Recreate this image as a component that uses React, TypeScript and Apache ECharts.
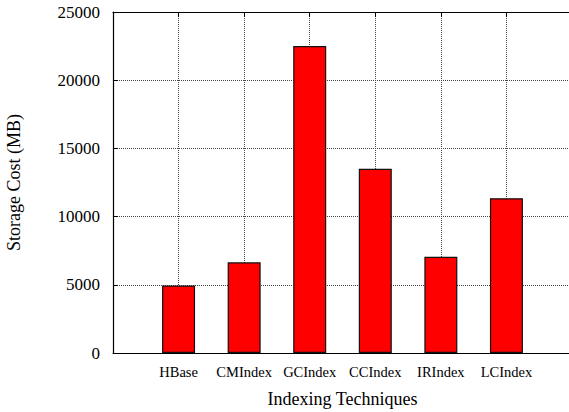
import React, { useEffect, useRef } from "react";
import * as echarts from "echarts";

// Storage cost per indexing technique, in MB
const categories: string[] = ["HBase", "CMIndex", "GCIndex", "CCIndex", "IRIndex", "LCIndex"];
const storageCost: number[] = [4950, 6650, 22500, 13500, 7050, 11350];
const yTicks: number[] = [0, 5000, 10000, 15000, 20000, 25000];

const FONT = "Liberation Serif";

export default function App() {
  const ref = useRef<HTMLDivElement>(null);

  useEffect(() => {
    if (!ref.current) return;
    const chart = echarts.init(ref.current, undefined, { renderer: "svg" });

    const barData = storageCost.map((v, i) => [i, v]);
    const gridLine = { show: true, lineStyle: { color: "#444", type: "dotted" as const, width: 1 } };

    chart.setOption({
      animation: false,
      backgroundColor: "#fff",
      grid: {
        left: 113,
        top: 12,
        width: 459,
        height: 341,
        containLabel: false,
        outerBoundsMode: "none",
      },
      xAxis: [
        {
          type: "value",
          position: "bottom",
          min: -1,
          max: 6,
          interval: 1,
          axisLine: { show: true, onZero: false, lineStyle: { color: "#000", width: 1.2 } },
          axisTick: { show: true, inside: true, length: 5, lineStyle: { color: "#000" } },
          axisLabel: {
            margin: 11,
            fontFamily: FONT,
            fontSize: 14.5,
            color: "#000",
            formatter: (v: number) => categories[v] ?? "",
          },
          splitLine: gridLine,
          name: "Indexing Techniques",
          nameLocation: "middle",
          nameGap: 37,
          nameTextStyle: { fontFamily: FONT, fontSize: 18, color: "#000" },
        },
        {
          type: "value",
          position: "top",
          min: -1,
          max: 6,
          interval: 1,
          axisLine: { show: true, onZero: false, lineStyle: { color: "#000", width: 1.2 } },
          axisTick: { show: true, inside: true, length: 5, lineStyle: { color: "#000" } },
          axisLabel: { show: false },
          splitLine: { show: false },
        },
      ],
      yAxis: {
        type: "value",
        min: yTicks[0],
        max: yTicks[yTicks.length - 1],
        interval: yTicks[1] - yTicks[0],
        axisLine: { show: true, onZero: false, lineStyle: { color: "#000", width: 1.2 } },
        axisTick: { show: true, inside: true, length: 5, lineStyle: { color: "#000" } },
        axisLabel: {
          margin: 13,
          fontFamily: FONT,
          fontSize: 17,
          color: "#000",
          formatter: (v: number) => String(v),
        },
        splitLine: gridLine,
        name: "Storage Cost (MB)",
        nameLocation: "middle",
        nameGap: 90,
        nameTextStyle: { fontFamily: FONT, fontSize: 18, color: "#000" },
      },
      series: [
        {
          type: "bar",
          xAxisIndex: 0,
          data: barData,
          barWidth: 33,
          itemStyle: { color: "#ff0000", borderColor: "#111", borderWidth: 1.2 },
        },
      ],
    });

    return () => chart.dispose();
  }, []);

  return (
    <div
      ref={ref}
      style={{ position: "fixed", left: 0, top: 0, width: 569, height: 412, background: "#fff" }}
    />
  );
}
